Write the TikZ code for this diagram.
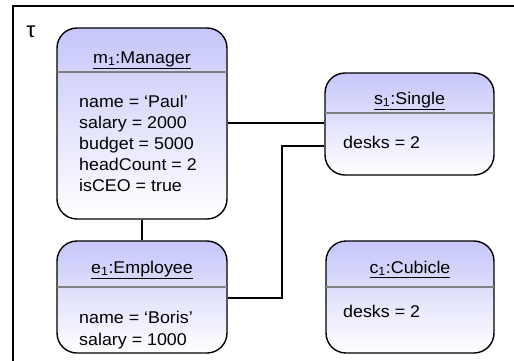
\documentclass[tikz,border=0pt]{standalone}
\usepackage{fontspec}
\setmainfont{Liberation Sans}[FakeStretch=1.05]
\definecolor{hdr}{RGB}{198,198,250}
\definecolor{sepgray}{RGB}{128,128,128}
\tikzset{
  objbox/.style={draw=black, line width=1.4pt, rounded corners=20pt,
    top color=hdr, bottom color=white, inner sep=0pt},
  sepline/.style={draw=sepgray, line width=2.5pt},
  titletext/.style={anchor=base, inner sep=0pt, font=\fontsize{17}{19}\selectfont},
  attrtext/.style={anchor=base west, inner sep=0pt, align=left,
    font=\fontsize{17}{21.2}\selectfont},
  link/.style={draw=black, line width=1.8pt},
}
\begin{document}
\begin{tikzpicture}[x=1pt,y=-1pt]
\useasboundingbox (0,0) rectangle (514,360);
\begin{scope}
\clip (0,0) rectangle (514,360);
\draw[line width=1.2pt] (13,380) -- (13,6) -- (530,6);
\end{scope}
\node[anchor=center, inner sep=0pt, font=\fontsize{22}{22}\selectfont] (tau) at (31,32) {τ};

% boxes
\node[objbox, minimum width=170pt, minimum height=191pt] (m1) at (142,123.5) {};
\node[objbox, minimum width=169pt, minimum height=102pt] (s1) at (409.5,124) {};
\node[objbox, minimum width=170pt, minimum height=112pt] (e1) at (142,297) {};
\node[objbox, minimum width=168pt, minimum height=112pt] (c1) at (410,297) {};

% separators
\coordinate (m1sL) at (57,72); \coordinate (m1sR) at (227,72);
\coordinate (s1sL) at (325,113); \coordinate (s1sR) at (494,113);
\coordinate (e1sL) at (57,287); \coordinate (e1sR) at (227,287);
\coordinate (c1sL) at (326,287); \coordinate (c1sR) at (494,287);
\draw[sepline] (m1sL) -- (m1sR);
\draw[sepline] (s1sL) -- (s1sR);
\draw[sepline] (e1sL) -- (e1sR);
\draw[sepline] (c1sL) -- (c1sR);

% titles
\node[titletext] (m1t) at (142,63) {\underline{m\textsubscript{1}:Manager}};
\node[titletext] (s1t) at (409.5,104) {\underline{s\textsubscript{1}:Single}};
\node[titletext] (e1t) at (142,273) {\underline{e\textsubscript{1}:Employee}};
\node[titletext] (c1t) at (410,273) {\underline{c\textsubscript{1}:Cubicle}};

% attributes (base anchor = baseline of the last line)
\node[attrtext] (m1a) at (79,191.8) {name = ‘Paul’\\salary = 2000\\budget = 5000\\headCount = 2\\isCEO = true};
\node[attrtext] (s1a) at (343,148) {desks = 2};
\node[attrtext] (e1a) at (79,345) {name = ‘Boris’\\salary = 1000};
\node[attrtext] (c1a) at (343,317) {desks = 2};

% connectors
\draw[link] (m1.east |- 0,123) -- (s1.west |- 0,123);
\draw[link] (m1.south) -- (e1.north);
\coordinate (bend1) at (282,298);
\coordinate (bend2) at (282,146);
\draw[link] (e1.east |- bend1) -- (bend1) -- (bend2) -- (s1.west |- bend2);
\end{tikzpicture}
\end{document}
